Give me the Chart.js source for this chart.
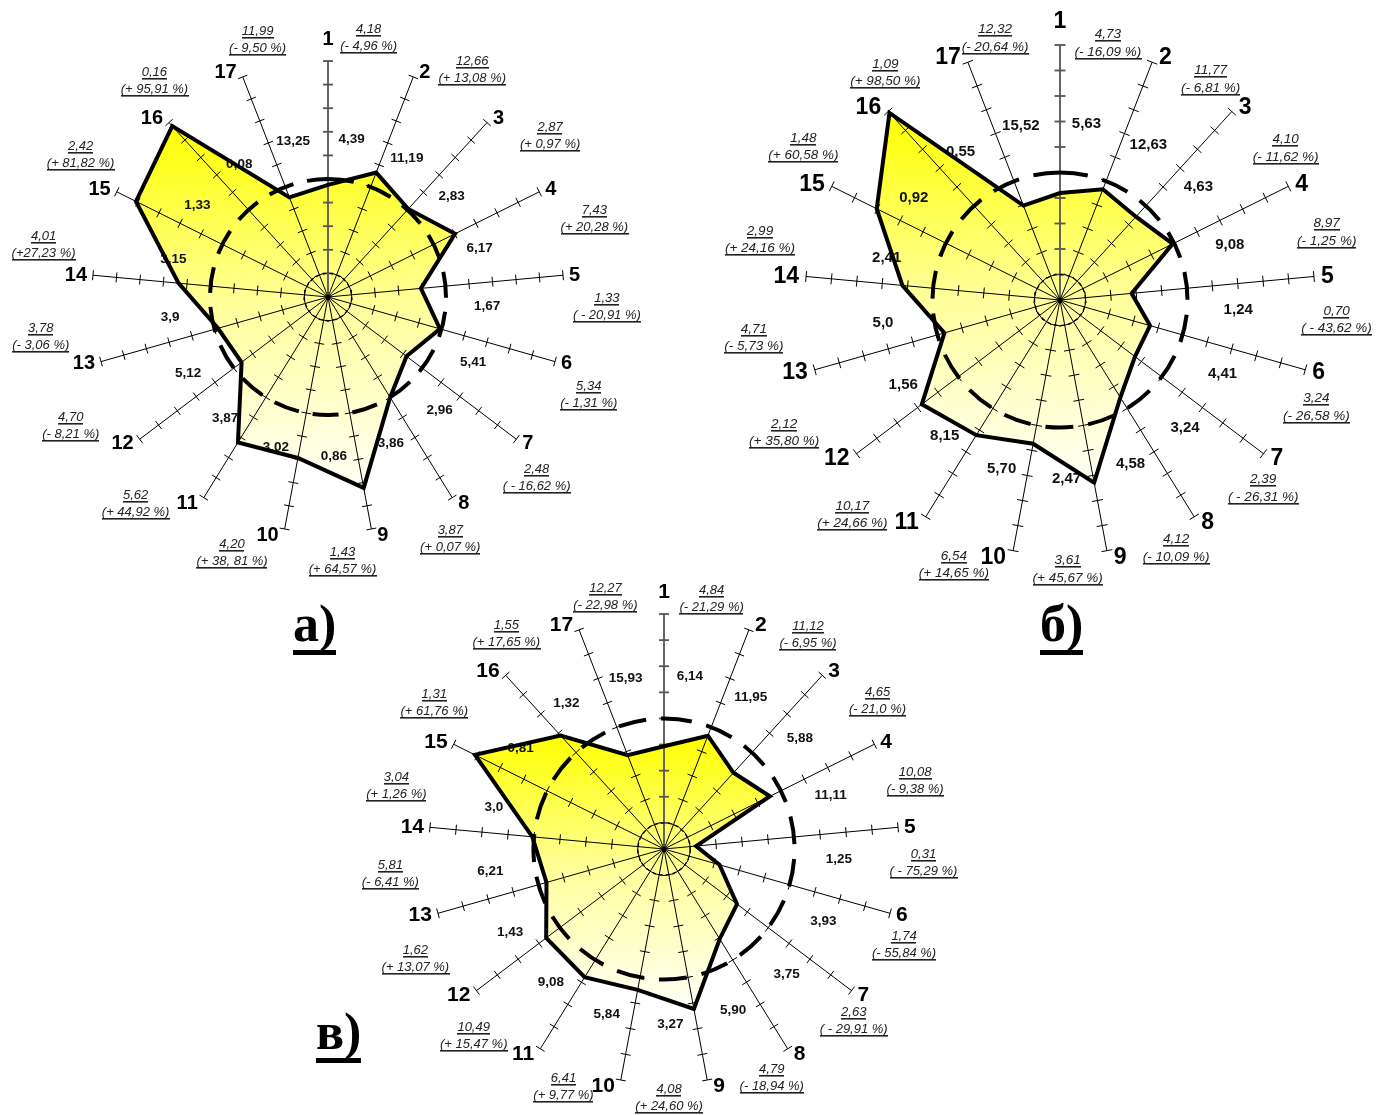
<!DOCTYPE html>
<html>
<head>
<meta charset="utf-8">
<script src="https://cdn.jsdelivr.net/npm/chart.js@4.4.1/dist/chart.umd.min.js"></script>
<style>
html,body{margin:0;padding:0;width:1389px;height:1115px;overflow:hidden;background:#fff;}
canvas{position:absolute;}
.tag{position:absolute;font-family:"Liberation Serif","Times New Roman",serif;font-weight:bold;font-size:52px;line-height:52px;height:52px;border-bottom:5px solid #000;white-space:nowrap;}
</style>
</head>
<body>
<canvas id="chA" width="720" height="720" style="left:-32px;top:-63px"></canvas>
<canvas id="chB" width="720" height="720" style="left:700px;top:-60px"></canvas>
<canvas id="chC" width="720" height="720" style="left:304px;top:489px"></canvas>
<div class="tag" style="left:293px;top:598px">а)</div>
<div class="tag" style="left:1040px;top:598px">б)</div>
<div class="tag" style="left:316px;top:1006px">в)</div>
<script>
// ---------- data ----------
const spokeLabels = ['1','2','3','4','5','6','7','8','9','10','11','12','13','14','15','16','17'];

// chart а)
const valuesA = ['4,18','12,66','2,87','7,43','1,33','5,34','2,48','3,87','1,43','4,20','5,62','4,70','3,78','4,01','2,42','0,16','11,99'];
const deviationA = [-4.96, 13.08, 0.97, 20.28, -20.91, -1.31, -16.62, 0.07, 64.57, 38.81, 44.92, -8.21, -3.06, 27.23, 81.82, 95.91, -9.50];
const deviationTextA = ['(- 4,96 %)','(+ 13,08 %)','(+ 0,97 %)','(+ 20,28 %)','( - 20,91 %)','(- 1,31 %)','( - 16,62 %)','(+ 0,07 %)','(+ 64,57 %)','(+ 38, 81 %)','(+ 44,92 %)','(- 8,21 %)','(- 3,06 %)','(+27,23 %)','(+ 81,82 %)','(+ 95,91 %)','(- 9,50 %)'];
const normA = ['4,39','11,19','2,83','6,17','1,67','5,41','2,96','3,86','0,86','3,02','3,87','5,12','3,9','3,15','1,33','0,08','13,25'];

// chart б)
const valuesB = ['4,73','11,77','4,10','8,97','0,70','3,24','2,39','4,12','3,61','6,54','10,17','2,12','4,71','2,99','1,48','1,09','12,32'];
const deviationB = [-16.09, -6.81, -11.62, -1.25, -43.62, -26.58, -26.31, -10.09, 45.67, 14.65, 24.66, 35.80, -5.73, 24.16, 60.58, 98.50, -20.64];
const deviationTextB = ['(- 16,09 %)','(- 6,81 %)','(- 11,62 %)','(- 1,25 %)','( - 43,62 %)','(- 26,58 %)','( - 26,31 %)','(- 10,09 %)','(+ 45,67 %)','(+ 14,65 %)','(+ 24,66 %)','(+ 35,80 %)','(- 5,73 %)','(+ 24,16 %)','(+ 60,58 %)','(+ 98,50 %)','(- 20,64 %)'];
const normB = ['5,63','12,63','4,63','9,08','1,24','4,41','3,24','4,58','2,47','5,70','8,15','1,56','5,0','2,41','0,92','0,55','15,52'];

// chart в)
const valuesC = ['4,84','11,12','4,65','10,08','0,31','1,74','2,63','4,79','4,08','6,41','10,49','1,62','5,81','3,04','1,31','1,55','12,27'];
const deviationC = [-21.29, -6.95, -21.0, -9.38, -75.29, -55.84, -29.91, -18.94, 24.60, 9.77, 15.47, 13.07, -6.41, 1.26, 61.76, 17.65, -22.98];
const deviationTextC = ['(- 21,29 %)','(- 6,95 %)','(- 21,0 %)','(- 9,38 %)','( - 75,29 %)','(- 55,84 %)','( - 29,91 %)','(- 18,94 %)','(+ 24,60 %)','(+ 9,77 %)','(+ 15,47 %)','(+ 13,07 %)','(- 6,41 %)','(+ 1,26 %)','(+ 61,76 %)','(+ 17,65 %)','(- 22,98 %)'];
const normC = ['6,14','11,95','5,88','11,11','1,25','3,93','3,75','5,90','3,27','5,84','9,08','1,43','6,21','3,0','0,81','1,32','15,93'];

const scaleMaxA = 2.0, scaleMaxB = 2.0, scaleMaxC = 1.8;
const normLevel = 1.0, innerLevel = 0.2, tickStep = 0.2;

// ---------- drawing ----------
const DEG = Math.PI / 180;
const SANS = '"Liberation Sans", Arial, sans-serif';

function gradientFill(context) {
  const chart = context.chart;
  const s = chart.scales.r;
  if (!s || !chart.chartArea) return '#ffff80';
  const data = chart.data.datasets[context.datasetIndex].data;
  let top = Infinity, bot = -Infinity;
  data.forEach((v, i) => {
    const p = s.getPointPositionForValue(i, v);
    top = Math.min(top, p.y); bot = Math.max(bot, p.y);
  });
  const g = chart.ctx.createLinearGradient(0, top, 0, bot);
  g.addColorStop(0, '#ffff00');
  g.addColorStop(0.5, '#ffff9c');
  g.addColorStop(1, '#fffff6');
  return g;
}

function underlined(ctx, text, x, y) {
  ctx.fillText(text, x, y);
  const w = ctx.measureText(text).width;
  ctx.fillRect(Math.round(x - w / 2), Math.round(y + 2), Math.round(w), 1.6);
}

function makeChart(id, L, D) {
  const ratios = D.dev.map(p => 1 + p / 100);
  const decor = {
    id: 'decor',
    beforeDatasetDraw(chart) {
      const s = chart.scales.r, ctx = chart.ctx, n = chart.data.labels.length;
      ctx.save();
      for (let i = 0; i < n; i++) {
        // the first spoke is drawn a little heavier and grey, as in the original
        ctx.strokeStyle = i === 0 ? '#555' : '#000';
        ctx.lineWidth = i === 0 ? 1.8 : 1;
        const tip = s.getPointPositionForValue(i, s.max);
        ctx.beginPath(); ctx.moveTo(s.xCenter, s.yCenter); ctx.lineTo(tip.x, tip.y); ctx.stroke();
        s.ticks.forEach(t => {
          if (t.value <= 0) return;
          const q = s.getPointPositionForValue(i, t.value);
          const a = q.angle + Math.PI / 2, h = L.tickHalf;
          ctx.beginPath();
          ctx.moveTo(q.x - Math.cos(a) * h, q.y - Math.sin(a) * h);
          ctx.lineTo(q.x + Math.cos(a) * h, q.y + Math.sin(a) * h);
          ctx.stroke();
        });
      }
      ctx.strokeStyle = '#000';
      // small inner dashed circle
      ctx.setLineDash([4, 3]);
      ctx.lineWidth = 1.3;
      ctx.beginPath();
      ctx.arc(s.xCenter, s.yCenter, s.getDistanceFromCenterForValue(innerLevel), 0, Math.PI * 2);
      ctx.stroke();
      // norm dashed circle
      ctx.setLineDash(L.dash);
      ctx.lineWidth = 4;
      ctx.beginPath();
      ctx.arc(s.xCenter, s.yCenter, s.getDistanceFromCenterForValue(normLevel), -Math.PI / 2, Math.PI * 1.5);
      ctx.stroke();
      ctx.setLineDash([]);
      // center dot
      ctx.fillStyle = '#000';
      ctx.beginPath(); ctx.arc(s.xCenter, s.yCenter, 2.5, 0, Math.PI * 2); ctx.fill();
      // inner norm values
      ctx.font = 'bold ' + L.normFont + 'px ' + SANS;
      ctx.textAlign = 'center';
      ctx.textBaseline = 'middle';
      ctx.fillStyle = '#111';
      for (let i = 0; i < n; i++) {
        const p = s.getPointPosition(i, s.drawingArea * L.inR, L.inAngle * DEG);
        ctx.fillText(D.norm[i], p.x, p.y);
      }
      ctx.restore();
    },
    afterDraw(chart) {
      const s = chart.scales.r, ctx = chart.ctx, n = chart.data.labels.length;
      ctx.save();
      ctx.textAlign = 'center';
      ctx.textBaseline = 'alphabetic';
      // spoke numbers
      ctx.font = 'bold ' + L.numFont + 'px ' + SANS;
      ctx.fillStyle = '#000';
      const capH = L.numFont * 0.716;
      for (let i = 0; i < n; i++) {
        const tip = s.getPointPositionForValue(i, s.max);
        const w = ctx.measureText(chart.data.labels[i]).width;
        const c = Math.cos(tip.angle), sn = Math.sin(tip.angle);
        let x, y;
        if (Math.abs(c) < 0.15) {
          x = tip.x; y = tip.y + (sn < 0 ? -1 : 1) * (capH / 2 + L.numGap + 10);
        } else {
          x = tip.x + Math.sign(c) * (w / 2 + L.numGap); y = tip.y + sn * 6 - 1;
        }
        ctx.fillText(chart.data.labels[i], x, y + capH / 2);
      }
      // outer value labels: set a little clockwise of each spoke, beyond its tip
      ctx.font = 'italic ' + L.valFont + 'px ' + SANS;
      ctx.fillStyle = '#222';
      const step = L.valFont + 4;
      for (let i = 0; i < n; i++) {
        const theta = s.getIndexAngle(i);
        const extra = L.outAngle + 4 * Math.sin(2 * (theta + 10 * DEG));
        const u = s.getPointPosition(i, 1, extra * DEG);
        const ux = u.x - s.xCenter, uy = u.y - s.yCenter;
        const r = s.drawingArea + L.g0 + L.gH * Math.abs(ux) + (ux < 0 ? L.gL * Math.abs(ux) : 0);
        const cx = s.xCenter + r * ux;
        const cy = s.yCenter + L.shiftY + r * uy;
        underlined(ctx, D.values[i], cx, cy - 3);
        underlined(ctx, D.devText[i], cx, cy - 3 + step);
      }
      ctx.restore();
    }
  };
  return new Chart(document.getElementById(id), {
    type: 'radar',
    data: {
      labels: spokeLabels,
      datasets: [{
        data: ratios,
        fill: true,
        backgroundColor: gradientFill,
        borderColor: '#000',
        borderWidth: 4,
        borderJoinStyle: 'miter',
        pointRadius: 0,
        pointHoverRadius: 0,
        tension: 0
      }]
    },
    options: {
      responsive: false,
      animation: false,
      devicePixelRatio: 1,
      events: [],
      layout: { padding: 360 - L.R },
      plugins: { legend: { display: false }, tooltip: { enabled: false } },
      scales: {
        r: {
          min: 0, max: L.max,
          ticks: { display: false, stepSize: tickStep },
          grid: { display: false },
          angleLines: { display: false },
          pointLabels: { display: false }
        }
      }
    },
    plugins: [decor]
  });
}

makeChart('chA',
  { R: 236, max: scaleMaxA, tickHalf: 5, dash: [26, 14], normFont: 13.5, numFont: 20, numGap: 6, valFont: 13,
    outAngle: 7.5, g0: 25, gH: 18, gL: 11, shiftY: 0, inR: 0.675, inAngle: 8.5 },
  { dev: deviationA, devText: deviationTextA, values: valuesA, norm: normA });
makeChart('chB',
  { R: 255, max: scaleMaxB, tickHalf: 5.5, dash: [28, 15], normFont: 15, numFont: 23, numGap: 7, valFont: 13.5,
    outAngle: 9, g0: 9, gH: 13, gL: 31, shiftY: 3, inR: 0.70, inAngle: 8.5 },
  { dev: deviationB, devText: deviationTextB, values: valuesB, norm: normB });
makeChart('chC',
  { R: 235, max: scaleMaxC, tickHalf: 5, dash: [28, 15], normFont: 13.5, numFont: 21, numGap: 6, valFont: 13,
    outAngle: 9.5, g0: 16, gH: 9, gL: 15, shiftY: -4, inR: 0.745, inAngle: 8.5 },
  { dev: deviationC, devText: deviationTextC, values: valuesC, norm: normC });
</script>
</body>
</html>
